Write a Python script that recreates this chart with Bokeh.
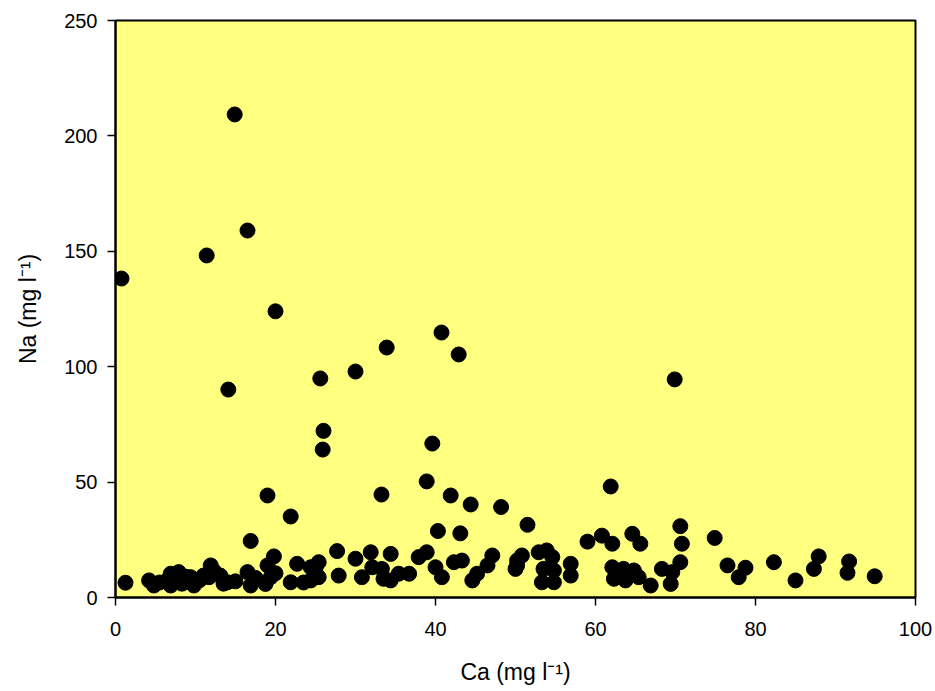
from bokeh.plotting import figure
from bokeh.models import Range1d, FixedTicker
from bokeh.embed import file_html
from bokeh.resources import INLINE

ca = [0.75, 14.9, 16.5, 11.4, 14.1, 20.0, 25.6, 25.9, 26.0, 19.0, 16.9, 21.9,
      30.0, 33.9, 33.25, 40.75, 42.9, 39.6, 38.9, 41.9, 44.4, 48.2, 40.3, 43.1,
      51.5, 61.9, 69.9, 70.6, 70.8, 74.9, 59.0, 60.8, 62.1, 65.6, 64.6,
      1.25, 4.2, 4.8, 5.5, 6.3, 6.9, 6.9, 7.5, 7.9, 8.3, 8.8, 9.4, 9.8, 10.5,
      11.0, 11.7, 11.9, 12.3, 13.1, 13.5, 14.0, 15.0, 16.5, 16.9, 17.5, 18.75,
      19.0, 19.4, 20.0, 19.8, 21.9, 22.7, 23.5, 24.4, 24.4, 25.0, 25.4, 25.4,
      27.7, 27.9, 30.0, 30.8, 31.9, 32.1, 33.3, 34.4, 34.4, 33.5, 35.4, 36.7,
      37.9, 38.9, 40.0, 40.8, 42.3, 43.3, 44.6, 45.2, 46.5, 47.1, 50.2,
      50.2, 50.0, 50.8, 52.9, 53.9, 54.6, 53.5, 54.8, 53.3, 54.8, 56.9, 56.9,
      62.1, 62.3, 63.5, 63.75, 64.8, 65.4, 66.9, 68.3, 69.6, 69.4, 70.6,
      76.5, 77.9, 78.75, 82.3, 85.0, 87.3, 87.9, 91.5, 91.7, 94.9]
na = [138.2, 209.3, 159.0, 148.2, 90.1, 124.0, 94.9, 64.1, 72.2, 44.2, 24.5, 35.1,
      97.9, 108.3, 44.6, 114.8, 105.3, 66.7, 50.3, 44.2, 40.3, 39.2, 28.8, 27.8,
      31.5, 48.1, 94.5, 30.9, 23.3, 25.8, 24.2, 26.8, 23.3, 23.3, 27.6,
      6.4, 7.4, 5.2, 6.5, 7.0, 5.2, 10.3, 8.0, 11.0, 6.0, 9.0, 8.8, 5.2, 7.5,
      9.5, 8.8, 13.9, 11.5, 9.5, 6.0, 6.6, 7.0, 11.0, 5.2, 8.5, 5.9,
      13.9, 8.8, 10.5, 17.8, 6.6, 14.6, 6.5, 13.1, 7.4, 12.6, 15.3, 8.8,
      20.1, 9.5, 16.8, 8.8, 19.6, 13.1, 12.4, 18.9, 7.4, 8.1, 10.3, 10.3,
      17.5, 19.6, 13.1, 8.8, 15.3, 16.0, 7.4, 10.3, 13.9, 18.2, 13.9,
      16.0, 12.4, 18.2, 19.6, 20.4, 17.5, 12.4, 11.7, 6.6, 6.6, 14.6, 9.5,
      13.1, 8.1, 12.4, 7.4, 11.7, 8.8, 5.2, 12.4, 11.0, 5.9, 15.3,
      13.9, 8.8, 12.9, 15.3, 7.4, 12.4, 17.8, 10.7, 15.6, 9.2]

x_ticks = [0, 20, 40, 60, 80, 100]
y_ticks = [0, 50, 100, 150, 200, 250]

FONT = "Liberation Sans"

p = figure(width=935, height=691, output_backend="svg", toolbar_location=None,
           x_range=Range1d(0, 100), y_range=Range1d(0, 250),
           min_border_left=115, min_border_right=20, min_border_top=20,
           min_border_bottom=94)

p.background_fill_color = "#FFFF80"
p.border_fill_color = "white"
p.outline_line_color = "black"
p.outline_line_width = 2
p.xgrid.visible = False
p.ygrid.visible = False

p.scatter(ca, na, marker="circle", size=15, fill_color="black", line_color="black")

p.xaxis.ticker = FixedTicker(ticks=x_ticks)
p.yaxis.ticker = FixedTicker(ticks=y_ticks)
for ax in (p.xaxis, p.yaxis):
    ax.axis_line_color = "black"
    ax.axis_line_width = 2
    ax.major_tick_line_color = "black"
    ax.major_tick_line_width = 1.5
    ax.major_tick_out = 8
    ax.major_tick_in = 0
    ax.minor_tick_line_color = None
    ax.major_label_text_font = FONT
    ax.major_label_text_font_size = "20px"
    ax.major_label_text_color = "black"
    ax.axis_label_text_font = FONT
    ax.axis_label_text_font_size = "23px"
    ax.axis_label_text_font_style = "normal"
    ax.axis_label_text_color = "black"

p.xaxis.axis_label = "Ca (mg l\u207b\u00b9)"
p.yaxis.axis_label = "Na (mg l\u207b\u00b9)"
p.xaxis.major_label_standoff = 16
p.yaxis.major_label_standoff = 10
p.xaxis.axis_label_standoff = 20
p.yaxis.axis_label_standoff = 20

open("out.html", "w").write(file_html(p, INLINE))
